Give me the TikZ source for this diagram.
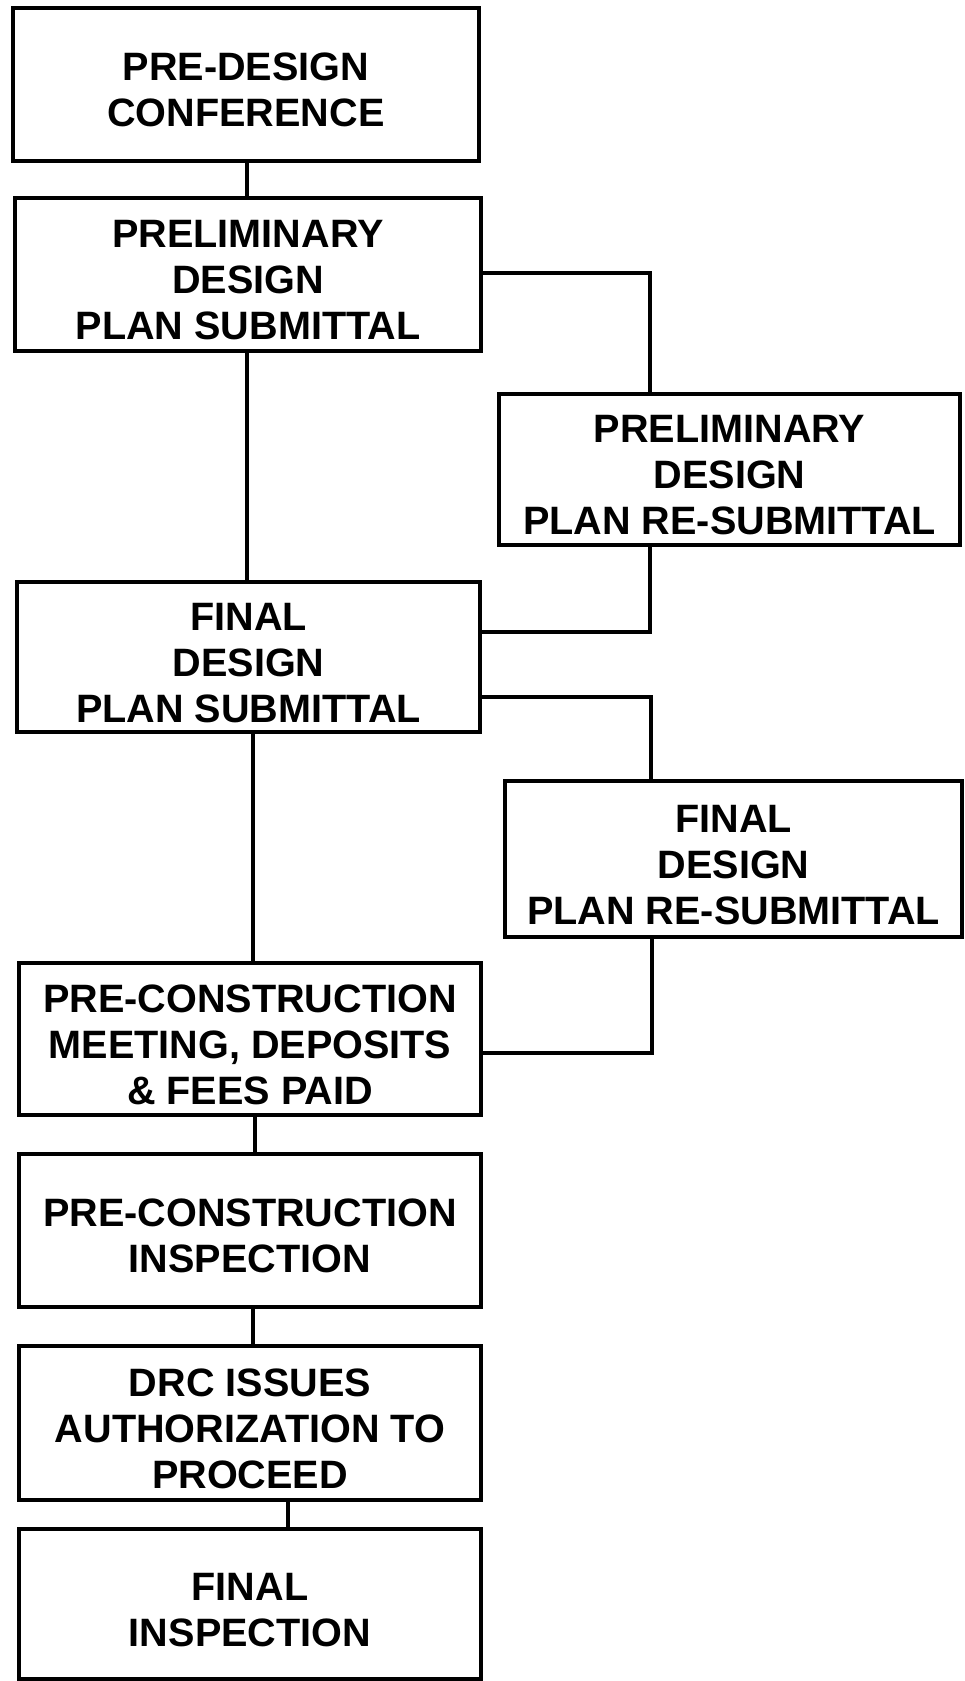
\documentclass[tikz,border=0pt]{standalone}
\usepackage{fontspec}
\setmainfont{Liberation Sans}
\usetikzlibrary{positioning}

\newcommand{\topgap}{\rule{0pt}{38.5pt}}

\tikzset{
	stepbox/.style={draw, rectangle, line width=4.5pt, inner sep=0pt, align=center,
		font=\fontsize{39.6}{46}\selectfont\bfseries},
	link/.style={line width=4.5pt}
}

\begin{document}
\begin{tikzpicture}[x=1pt,y=-1pt]
		\useasboundingbox (0,0) rectangle (965,1681);
		% main column
		\node[stepbox, minimum width=466pt, minimum height=153pt] (predesign) at (246,84.5) {\topgap PRE-DESIGN\\CONFERENCE};
		\node[stepbox, minimum width=466pt, minimum height=153pt] (prelim) at (248,274.5) {\topgap PRELIMINARY\\DESIGN\\PLAN SUBMITTAL};
		\node[stepbox, minimum width=463pt, minimum height=150pt] (final) at (248.5,657) {\topgap FINAL\\DESIGN\\PLAN SUBMITTAL};
		\node[stepbox, minimum width=462pt, minimum height=152pt] (precon) at (250,1039) {\topgap PRE-CONSTRUCTION\\MEETING, DEPOSITS\\\& FEES PAID};
		\node[stepbox, minimum width=462pt, minimum height=153pt] (inspect) at (250,1230.5) {\topgap PRE-CONSTRUCTION\\INSPECTION};
		\node[stepbox, minimum width=462pt, minimum height=154pt] (drc) at (250,1423) {\topgap DRC ISSUES\\AUTHORIZATION TO\\PROCEED};
		\node[stepbox, minimum width=462pt, minimum height=150pt] (finalinsp) at (250,1604) {\topgap FINAL\\INSPECTION};
		
		% re-submittal boxes
		\node[stepbox, minimum width=461pt, minimum height=151pt] (prelimre) at (729.5,469.5) {\topgap PRELIMINARY\\DESIGN\\PLAN RE-SUBMITTAL};
		\node[stepbox, minimum width=457pt, minimum height=156pt] (finalre) at (733.5,859) {\topgap FINAL\\DESIGN\\PLAN RE-SUBMITTAL};
		
		% connectors
		\draw[link] ([xshift=1pt]predesign.south) -- ([xshift=-1pt]prelim.north);
		\draw[link] ([xshift=-1pt]prelim.south) -- ([xshift=-1.5pt]final.north);
		\draw[link] ([xshift=4.5pt]final.south) -- ([xshift=3pt]precon.north);
		\draw[link] ([xshift=5pt]precon.south) -- ([xshift=5pt]inspect.north);
		\draw[link] ([xshift=3pt]inspect.south) -- ([xshift=3pt]drc.north);
		\draw[link] ([xshift=38pt]drc.south) -- ([xshift=38pt]finalinsp.north);
		
		% loops
		\draw[link] ([yshift=1.5pt]prelim.east) -| ([xshift=-79.5pt]prelimre.north);
		\draw[link] ([xshift=-79.5pt]prelimre.south) |- ([yshift=25pt]final.east);
		\draw[link] ([yshift=-40pt]final.east) -| ([xshift=-82.5pt]finalre.north);
		\draw[link] ([xshift=-81.5pt]finalre.south) |- ([yshift=-14pt]precon.east);
	\end{tikzpicture}
\end{document}
